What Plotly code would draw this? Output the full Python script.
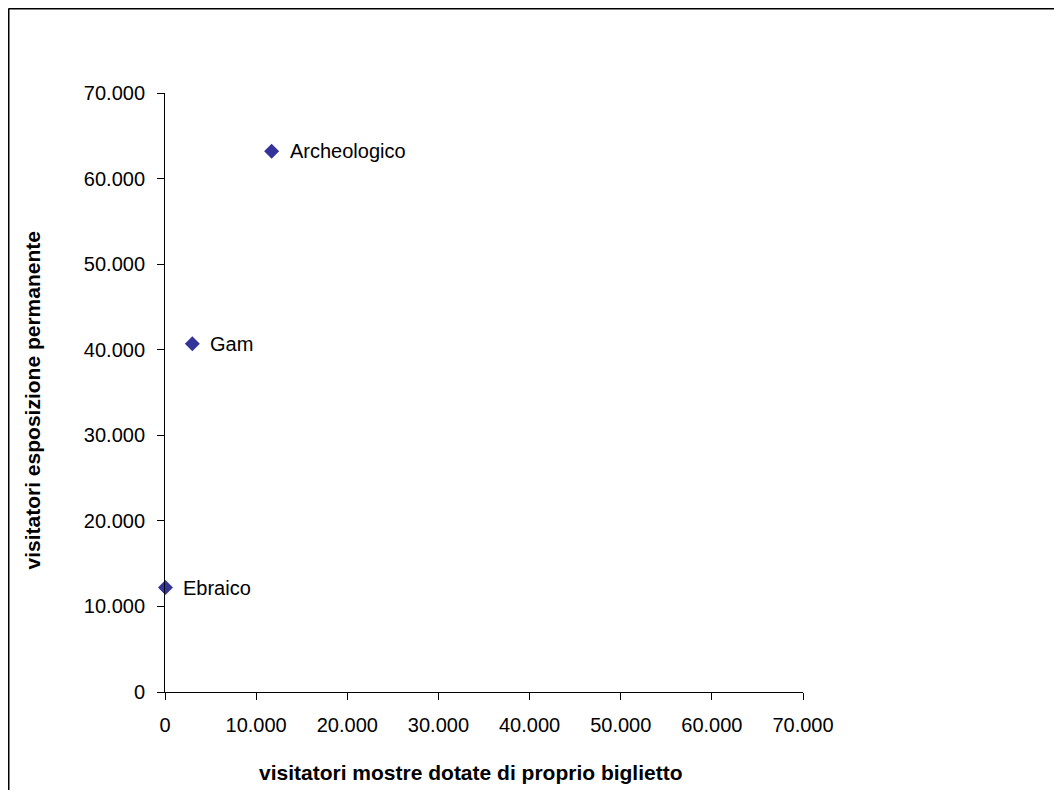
import plotly.graph_objects as go

musei = ["Archeologico", "Gam", "Ebraico"]
visitatori_mostre = [11700, 3000, 50]
visitatori_permanente = [63200, 40700, 12200]

x_title = "visitatori mostre dotate di proprio biglietto"
y_title = "visitatori esposizione permanente"
tick_vals = [0, 10000, 20000, 30000, 40000, 50000, 60000, 70000]

W, H = 1046, 782
L, R, T, B = 157, 251, 85, 98
PW, PH = W - L - R, H - T - B

FONT = "Liberation Sans, Arial, sans-serif"


def px_x(fx):
    return (fx - L) / PW


def px_y(fy):
    return 1 - (fy - T) / PH


fig = go.Figure()
fig.add_trace(go.Scatter(
    x=visitatori_mostre, y=visitatori_permanente,
    mode="markers",
    marker=dict(symbol="diamond", size=11.5, color="#333399", line=dict(width=0)),
    cliponaxis=False, hoverinfo="skip", showlegend=False,
))

for name, xv, yv in zip(musei, visitatori_mostre, visitatori_permanente):
    fig.add_annotation(x=xv, y=yv, xref="x", yref="y", text=name, showarrow=False,
                       xanchor="left", yanchor="middle", xshift=16,
                       font=dict(family=FONT, size=20, color="black"))

axis_common = dict(
    range=[0, 70000], tickvals=tick_vals, tickformat=",d",
    showgrid=False, zeroline=False, showline=True, linecolor="black", linewidth=1,
    ticks="outside", ticklen=7, tickcolor="black", tickwidth=1,
    tickfont=dict(family=FONT, size=20, color="black"),
    ticklabelstandoff=8,
)
fig.update_xaxes(**axis_common)
fig.update_yaxes(**axis_common)

title_font = dict(family=FONT, size=21, color="black", weight="bold")
fig.add_annotation(xref="paper", yref="paper", x=px_x(462.5), y=px_y(764),
                   text=x_title, showarrow=False, xanchor="center", yanchor="middle",
                   font=title_font)
fig.add_annotation(xref="paper", yref="paper", x=px_x(23.5), y=px_y(393),
                   text=y_title, showarrow=False, xanchor="center", yanchor="middle",
                   textangle=-90, font=title_font)

# chart frame (left and top edges visible)
xl = px_x(0.5)
yt = px_y(0.5)
fig.add_shape(type="line", xref="paper", yref="paper", x0=xl, x1=xl, y0=yt, y1=-0.3,
              line=dict(color="black", width=2))
fig.add_shape(type="line", xref="paper", yref="paper", x0=xl, x1=1.5, y0=yt, y1=yt,
              line=dict(color="black", width=2))

fig.update_layout(
    width=W, height=H, autosize=False,
    margin=dict(l=L, r=R, t=T, b=B, autoexpand=False),
    paper_bgcolor="white", plot_bgcolor="white",
    separators=",.",
    font=dict(family=FONT, color="black"),
)

fig.write_html("out.html")
